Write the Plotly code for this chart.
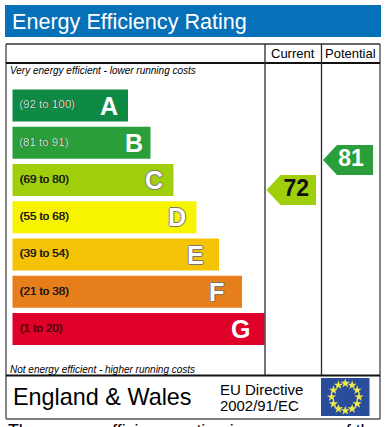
import math
import plotly.graph_objects as go

bands = ["A", "B", "C", "D", "E", "F", "G"]
ranges = ["(92 to 100)", "(81 to 91)", "(69 to 80)", "(55 to 68)", "(39 to 54)", "(21 to 38)", "(1 to 20)"]
bar_lengths = [115.5, 138, 161, 184, 206.5, 229.5, 252]
band_colors = ["#0f8a45", "#2b9e3c", "#9fcf0b", "#f8f400", "#f4c305", "#e67e1b", "#e0012a"]
range_colors = ["#d5ead8", "#d8eed8", "#222222", "#222222", "#222222", "#222222", "#5a0010"]
current = 72
potential = 81
current_color = "#9fcf0b"
potential_color = "#2b9e3c"

W, H = 389, 427
FONT = "Liberation Sans"
BAR_LEFT = 12.5
LETTER_INSET = [19, 17, 19.5, 19.5, 24, 26, 24]

fig = go.Figure()

# rating bars
fig.add_trace(go.Bar(
    y=bands, x=bar_lengths, base=BAR_LEFT, orientation="h",
    marker=dict(color=band_colors, line=dict(width=0)),
    yaxis="y", xaxis="x", hoverinfo="skip", showlegend=False,
))

# range labels and band letters
fig.add_trace(go.Scatter(
    y=bands, x=[BAR_LEFT + 7] * 7, mode="text", text=ranges,
    textposition="middle right",
    textfont=dict(family=FONT, size=11.5, color=range_colors,
                  shadow="0.4px 0 0 currentColor"),
    yaxis="y", xaxis="x", hoverinfo="skip", showlegend=False,
))
for b, length, inset in zip(bands, bar_lengths, LETTER_INSET):
    outlined = b in "CDEF"
    fig.add_annotation(
        x=BAR_LEFT + length - inset, y=b, xref="x", yref="y", text=f"<b>{b}</b>",
        showarrow=False, xanchor="center", yanchor="middle",
        font=dict(family=FONT, size=25, color="#ffffff",
                  shadow="1px 0 0 #777, -1px 0 0 #777, 0 1px 0 #777, 0 -1px 0 #777" if outlined else "none"),
    )

# rating arrows, placed on the rating axis (y2)
HALF = 4.5
for value, col_left, col_right, color, txtcolor, nudge in [
    (current, 266.5, 316, current_color, "#111111", -2),
    (potential, 323, 373, potential_color, "#ffffff", -4),
]:
    shaft = col_left + 14
    fig.add_trace(go.Scatter(
        x=[col_left, shaft, col_right, col_right, shaft, col_left],
        y=[value, value + HALF, value + HALF, value - HALF, value - HALF, value],
        mode="lines", fill="toself", fillcolor=color, line=dict(width=0, color=color),
        yaxis="y2", xaxis="x", hoverinfo="skip", showlegend=False,
    ))
    fig.add_trace(go.Scatter(
        x=[(shaft + col_right) / 2 + nudge], y=[value], mode="text", text=[f"<b>{value}</b>"],
        textposition="middle center",
        textfont=dict(family=FONT, size=23, color=txtcolor),
        yaxis="y2", xaxis="x", hoverinfo="skip", showlegend=False,
    ))

# EU flag stars
flag_cx, flag_cy, flag_r = 345.3, 397, 13.7
n_stars = 12
fig.add_trace(go.Scatter(
    x=[flag_cx + flag_r * math.sin(2 * math.pi * i / n_stars) for i in range(n_stars)],
    y=[flag_cy - flag_r * math.cos(2 * math.pi * i / n_stars) for i in range(n_stars)],
    mode="markers", marker=dict(symbol="star", size=7, color="#f0ea4a", line=dict(width=0)),
    yaxis="y3", xaxis="x", hoverinfo="skip", showlegend=False,
))

LINE = "#2b2b2b"
def rect(x0, y0, x1, y1, color):
    return dict(type="rect", xref="x", yref="y3", x0=x0, y0=y0, x1=x1, y1=y1,
                fillcolor=color, line=dict(width=0), layer="below")
def line(x0, y0, x1, y1, color=LINE, width=1.3):
    return dict(type="line", xref="x", yref="y3", x0=x0, y0=y0, x1=x1, y1=y1,
                line=dict(color=color, width=width), layer="below")

shapes = [
    rect(5, 5, 381, 37, "#0670b8"),
    rect(321, 378, 369.5, 416, "#2a4d9b"),
    line(6, 44, 380, 44, "#333333", 1.5),
    line(6, 44, 6, 419, "#333333", 1.2),
    line(380, 44, 380, 419, "#333333", 1.2),
    line(6, 63, 380, 63, "#111111", 2),
    line(265, 44, 265, 375),
    line(321.5, 44, 321.5, 375),
    line(6, 375.5, 380, 375.5, "#111111", 2),
    line(6, 419, 380, 419, "#555555", 1.5),
]

def label(x, y, text, size, color="#000000", anchor="left", italic=False):
    fig.add_annotation(
        x=x, y=y, xref="x", yref="y3", text=f"<i>{text}</i>" if italic else text,
        showarrow=False, xanchor=anchor, yanchor="middle", borderpad=0, borderwidth=0,
        font=dict(family=FONT, size=size, color=color),
    )

label(12, 21.5, "Energy Efficiency Rating", 21.6, "#ffffff")
label(293, 53.5, "Current", 13, anchor="center")
label(350.3, 53.5, "Potential", 13, anchor="center")
label(9.5, 70, "Very energy efficient - lower running costs", 10, italic=True)
label(9.5, 369, "Not energy efficient - higher running costs", 10, italic=True)
label(13, 397, "England &amp; Wales", 23.4)
label(220, 389, "EU Directive", 15)
label(220, 406, "2002/91/EC", 14.9)

# sentence cut off by the lower edge of the picture
fig.add_annotation(
    x=7, y=1 - 431 / H, xref="x", yref="paper",
    text="The energy efficiency rating is a measure of the",
    showarrow=False, xanchor="left", yanchor="middle", borderpad=0,
    font=dict(family=FONT, size=17.7, color="#000000"),
)

PITCH = 37.25
band_top = 105.5 - PITCH / 2
band_bottom = 329 + PITCH / 2

fig.update_layout(
    width=W, height=H, autosize=False,
    margin=dict(l=0, r=0, t=0, b=0),
    paper_bgcolor="#ffffff", plot_bgcolor="rgba(0,0,0,0)",
    showlegend=False, bargap=0.14, shapes=shapes,
    xaxis=dict(range=[0, W], domain=[0, 1], visible=False, fixedrange=True),
    yaxis=dict(type="category", categoryorder="array", categoryarray=bands[::-1],
               domain=[1 - band_bottom / H, 1 - band_top / H],
               visible=False, fixedrange=True, anchor="x"),
    # rating axis: 3.33 px per rating point, 72 sits at pixel row 190
    yaxis2=dict(range=[72 - (H - 190) / 3.333, 72 + 190 / 3.333], domain=[0, 1],
                visible=False, fixedrange=True, anchor="x"),
    yaxis3=dict(range=[H, 0], domain=[0, 1],
                visible=False, fixedrange=True, anchor="x"),
)

fig.write_html("out.html", config=dict(displayModeBar=False),
               post_script="document.body.style.margin='0';document.body.style.overflow='hidden';")
